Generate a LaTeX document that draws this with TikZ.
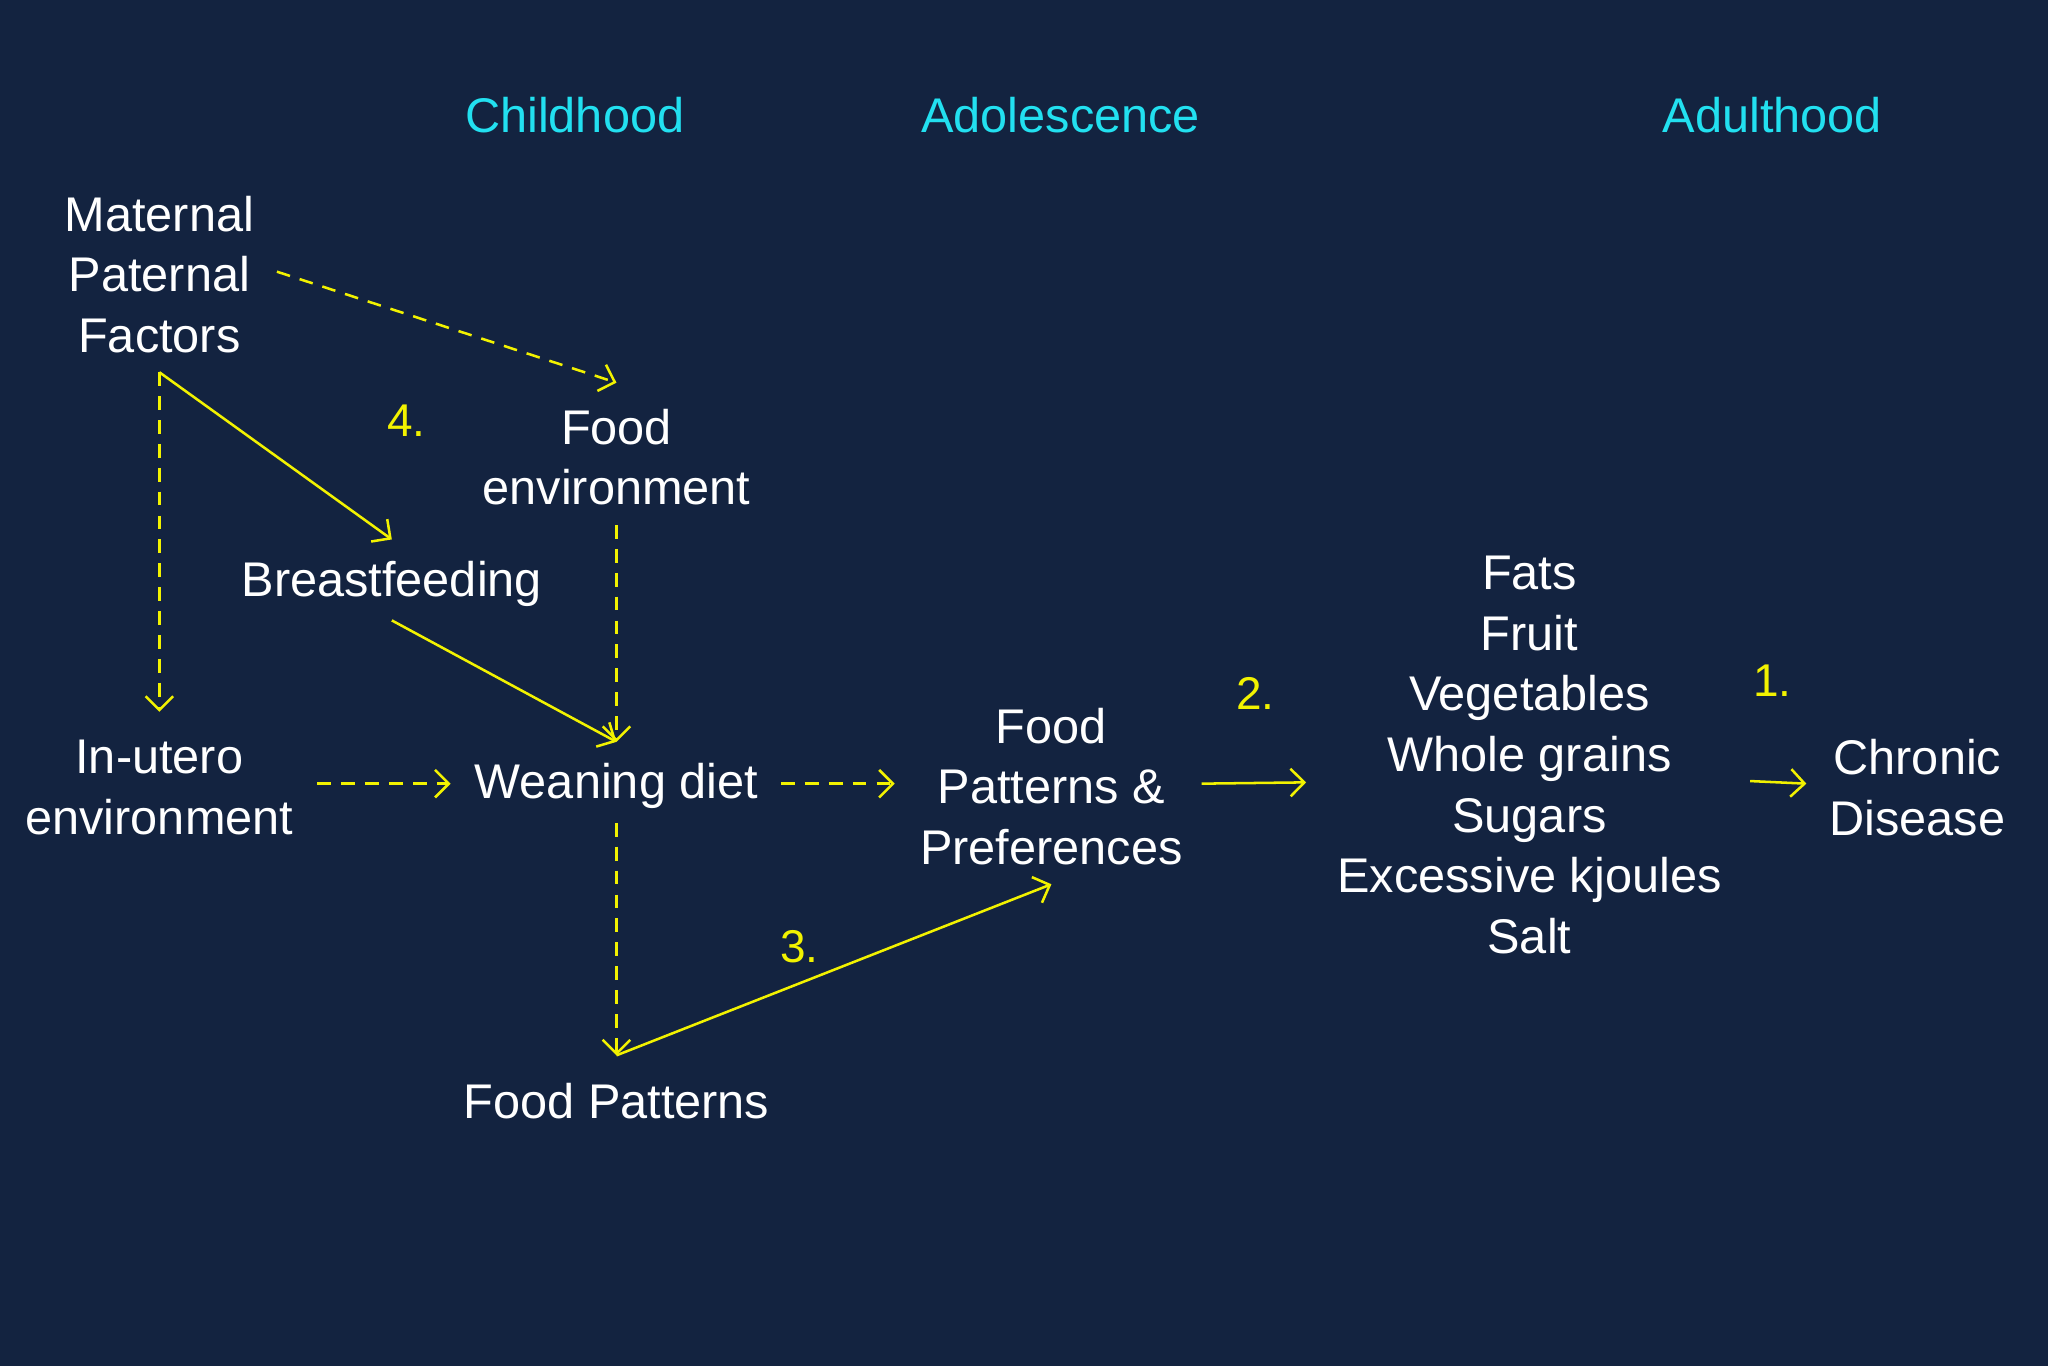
\documentclass[tikz,border=0pt]{standalone}
\usepackage{fontspec}
\setmainfont{Liberation Sans}
\usetikzlibrary{arrows.meta}
\definecolor{bg}{HTML}{132340}
\definecolor{cy}{HTML}{22E0F0}
\definecolor{yl}{HTML}{F2F200}
\begin{document}
\begin{tikzpicture}[x=0.01cm,y=-0.01cm,
  txt/.style={text=white,font=\fontsize{10.6}{13.2}\selectfont,align=center,inner sep=0pt},
  hd/.style={text=cy,font=\fontsize{10.6}{13.2}\selectfont,inner sep=0pt},
  num/.style={text=yl,font=\fontsize{10}{12}\selectfont,inner sep=0pt},
  ar/.style={draw=yl,line width=0.55pt,-{Straight Barb[length=3pt,width=6pt]}},
  dar/.style={ar,dash pattern=on 3pt off 2.2pt}]
\fill[bg] (0,0) rectangle (1568,1046);
\useasboundingbox (0,0) rectangle (1568,1046);
\node[hd] (ch) at (440,88) {Childhood};
\node[hd] (ad) at (812,88) {Adolescence};
\node[hd] (au) at (1357,88) {Adulthood};
\node[txt] (mp) at (122,210) {Maternal\\Paternal\\Factors};
\node[txt] (fe) at (472,350) {Food\\environment};
\node[num] (n4) at (311,322) {4.};
\node[txt] (bf) at (300,447) {Breastfeeding};
\node[txt] (iu) at (122,603) {In-utero\\environment};
\node[txt] (wd) at (472,602) {Weaning diet};
\node[txt] (fpp) at (805,602) {Food\\Patterns \&\\Preferences};
\node[num] (n2) at (961,531) {2.};
\node[txt] (fl) at (1171,578) {Fats\\Fruit\\Vegetables\\Whole grains\\Sugars\\Excessive kjoules\\Salt};
\node[num] (n1) at (1357,521) {1.};
\node[txt] (cd) at (1468,603) {Chronic\\Disease};
\node[num] (n3) at (612,725) {3.};
\node[txt] (fp) at (472,843) {Food Patterns};
\coordinate (a1) at (212,208); \coordinate (a2) at (472,293);
\coordinate (b1) at (122,285); \coordinate (b2) at (122,545);
\coordinate (c2) at (300,413);
\coordinate (d1) at (472,402); \coordinate (d2) at (472,568);
\coordinate (e1) at (300,475);
\coordinate (f1) at (243,600); \coordinate (f2) at (345,600);
\coordinate (g1) at (598,600); \coordinate (g2) at (685,600);
\coordinate (h1) at (472,630); \coordinate (h2) at (472,808);
\coordinate (i2) at (805,677);
\coordinate (j1) at (920,600); \coordinate (j2) at (1000,599);
\coordinate (k1) at (1340,598); \coordinate (k2) at (1383,600);
\draw[dar] (a1) -- (a2);
\draw[dar] (b1) -- (b2);
\draw[ar] (b1) -- (c2);
\draw[dar] (d1) -- (d2);
\draw[ar] (e1) -- (d2);
\draw[dar] (f1) -- (f2);
\draw[dar] (g1) -- (g2);
\draw[dar] (h1) -- (h2);
\draw[ar] (h2) -- (i2);
\draw[ar] (j1) -- (j2);
\draw[ar] (k1) -- (k2);
\end{tikzpicture}
\end{document}
